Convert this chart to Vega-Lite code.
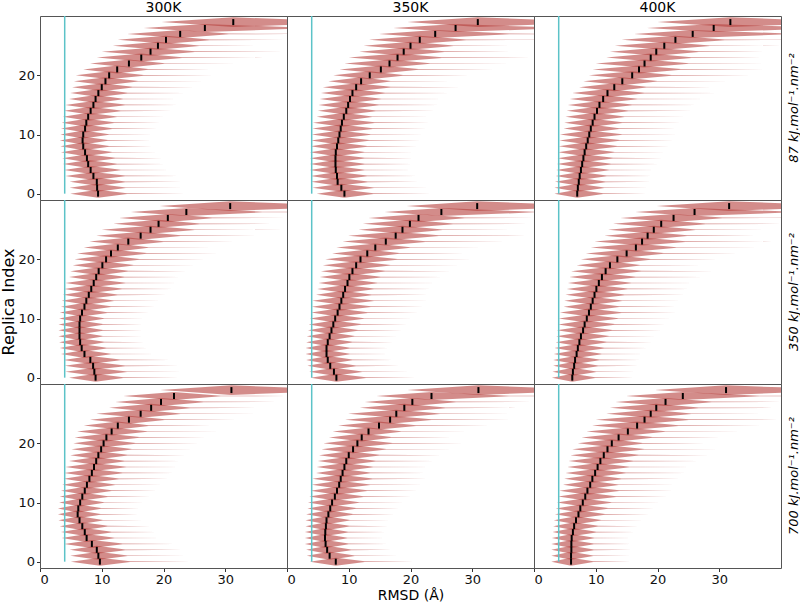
{
  "$schema": "https://vega.github.io/schema/vega-lite/v6.json",
  "background": "white",
  "bounds": "flush",
  "padding": {"left": 0, "top": 1, "right": 0, "bottom": 0},
  "title": {"text": "Replica Index", "orient": "left", "anchor": "middle", "fontSize": 16, "fontWeight": "normal", "font": "DejaVu Sans", "color": "#000000", "offset": 1},
  "data": {"values": [
    {"T":"300K","P":"87","r":0,"m":9.4,"lo":4.9,"hi":14.1,"tl":23.5},
    {"T":"300K","P":"87","r":1,"m":9.25,"lo":4.8,"hi":13.9,"tl":23.1},
    {"T":"300K","P":"87","r":2,"m":9.2,"lo":4.8,"hi":13.8,"tl":23.0},
    {"T":"300K","P":"87","r":3,"m":8.65,"lo":4.1,"hi":13.8,"tl":22.5},
    {"T":"300K","P":"87","r":4,"m":8.2,"lo":3.9,"hi":13.1,"tl":21.3},
    {"T":"300K","P":"87","r":5,"m":7.8,"lo":3.7,"hi":12.5,"tl":20.3},
    {"T":"300K","P":"87","r":6,"m":7.6,"lo":3.6,"hi":12.2,"tl":19.8},
    {"T":"300K","P":"87","r":7,"m":7.3,"lo":3.4,"hi":11.7,"tl":19.0},
    {"T":"300K","P":"87","r":8,"m":7.0,"lo":3.3,"hi":11.2,"tl":18.2},
    {"T":"300K","P":"87","r":9,"m":6.9,"lo":3.2,"hi":11.0,"tl":17.9},
    {"T":"300K","P":"87","r":10,"m":7.0,"lo":3.3,"hi":11.2,"tl":18.2},
    {"T":"300K","P":"87","r":11,"m":7.3,"lo":3.4,"hi":11.7,"tl":19.0},
    {"T":"300K","P":"87","r":12,"m":7.5,"lo":3.5,"hi":12.0,"tl":19.5},
    {"T":"300K","P":"87","r":13,"m":7.8,"lo":3.7,"hi":12.5,"tl":20.3},
    {"T":"300K","P":"87","r":14,"m":8.2,"lo":3.9,"hi":13.1,"tl":21.3},
    {"T":"300K","P":"87","r":15,"m":8.65,"lo":4.1,"hi":13.8,"tl":22.5},
    {"T":"300K","P":"87","r":16,"m":9.0,"lo":4.7,"hi":13.5,"tl":22.5},
    {"T":"300K","P":"87","r":17,"m":9.45,"lo":4.9,"hi":14.2,"tl":23.6},
    {"T":"300K","P":"87","r":18,"m":10.0,"lo":5.2,"hi":15.0,"tl":25.0},
    {"T":"300K","P":"87","r":19,"m":10.6,"lo":5.5,"hi":15.9,"tl":26.5},
    {"T":"300K","P":"87","r":20,"m":11.2,"lo":5.8,"hi":16.8,"tl":28.0},
    {"T":"300K","P":"87","r":21,"m":12.5,"lo":7.0,"hi":17.5,"tl":27.5},
    {"T":"300K","P":"87","r":22,"m":14.4,"lo":8.1,"hi":20.2,"tl":31.7},
    {"T":"300K","P":"87","r":23,"m":16.4,"lo":9.2,"hi":23.0,"tl":36.1},
    {"T":"300K","P":"87","r":24,"m":17.9,"lo":10.0,"hi":25.1,"tl":39.4},
    {"T":"300K","P":"87","r":25,"m":19.1,"lo":11.8,"hi":25.8,"tl":37.3},
    {"T":"300K","P":"87","r":26,"m":20.4,"lo":12.6,"hi":27.5,"tl":39.7},
    {"T":"300K","P":"87","r":27,"m":22.7,"lo":14.1,"hi":30.6,"tl":44.2},
    {"T":"300K","P":"87","r":28,"m":26.7,"lo":16.8,"hi":42.7,"tl":53.4},
    {"T":"300K","P":"87","r":29,"m":31.3,"lo":19.7,"hi":50.1,"tl":62.6,"w":1.2},

    {"T":"350K","P":"87","r":0,"m":9.3,"lo":4.8,"hi":14.0,"tl":23.3},
    {"T":"350K","P":"87","r":1,"m":8.8,"lo":4.1,"hi":14.1,"tl":22.9},
    {"T":"350K","P":"87","r":2,"m":8.2,"lo":3.9,"hi":13.1,"tl":21.3},
    {"T":"350K","P":"87","r":3,"m":8.1,"lo":3.8,"hi":13.0,"tl":21.1},
    {"T":"350K","P":"87","r":4,"m":7.9,"lo":3.7,"hi":12.6,"tl":20.5},
    {"T":"350K","P":"87","r":5,"m":7.85,"lo":3.7,"hi":12.6,"tl":20.4},
    {"T":"350K","P":"87","r":6,"m":7.85,"lo":3.7,"hi":12.6,"tl":20.4},
    {"T":"350K","P":"87","r":7,"m":7.9,"lo":3.7,"hi":12.6,"tl":20.5},
    {"T":"350K","P":"87","r":8,"m":8.1,"lo":3.8,"hi":13.0,"tl":21.1},
    {"T":"350K","P":"87","r":9,"m":8.3,"lo":3.9,"hi":13.3,"tl":21.6},
    {"T":"350K","P":"87","r":10,"m":8.5,"lo":4.0,"hi":13.6,"tl":22.1},
    {"T":"350K","P":"87","r":11,"m":8.7,"lo":4.1,"hi":13.9,"tl":22.6},
    {"T":"350K","P":"87","r":12,"m":8.9,"lo":4.2,"hi":14.2,"tl":23.1},
    {"T":"350K","P":"87","r":13,"m":9.2,"lo":4.8,"hi":13.8,"tl":23.0},
    {"T":"350K","P":"87","r":14,"m":9.6,"lo":5.0,"hi":14.4,"tl":24.0},
    {"T":"350K","P":"87","r":15,"m":9.9,"lo":5.1,"hi":14.9,"tl":24.8},
    {"T":"350K","P":"87","r":16,"m":10.2,"lo":5.3,"hi":15.3,"tl":25.5},
    {"T":"350K","P":"87","r":17,"m":10.6,"lo":5.5,"hi":15.9,"tl":26.5},
    {"T":"350K","P":"87","r":18,"m":11.2,"lo":5.8,"hi":16.8,"tl":28.0},
    {"T":"350K","P":"87","r":19,"m":12.0,"lo":6.7,"hi":16.8,"tl":26.4},
    {"T":"350K","P":"87","r":20,"m":13.4,"lo":7.5,"hi":18.8,"tl":29.5},
    {"T":"350K","P":"87","r":21,"m":15.2,"lo":8.5,"hi":21.3,"tl":33.5},
    {"T":"350K","P":"87","r":22,"m":16.6,"lo":9.3,"hi":23.2,"tl":36.5},
    {"T":"350K","P":"87","r":23,"m":17.9,"lo":10.0,"hi":25.1,"tl":39.4},
    {"T":"350K","P":"87","r":24,"m":18.9,"lo":11.7,"hi":25.5,"tl":36.8},
    {"T":"350K","P":"87","r":25,"m":20.0,"lo":12.4,"hi":27.0,"tl":39.0},
    {"T":"350K","P":"87","r":26,"m":21.5,"lo":13.3,"hi":29.0,"tl":41.9},
    {"T":"350K","P":"87","r":27,"m":24.0,"lo":14.9,"hi":36.0,"tl":46.8},
    {"T":"350K","P":"87","r":28,"m":27.3,"lo":17.2,"hi":43.7,"tl":54.6},
    {"T":"350K","P":"87","r":29,"m":30.9,"lo":19.5,"hi":49.4,"tl":61.8,"w":1.2},

    {"T":"400K","P":"87","r":0,"m":7.0,"lo":3.3,"hi":11.2,"tl":18.2},
    {"T":"400K","P":"87","r":1,"m":7.1,"lo":3.3,"hi":11.4,"tl":18.5},
    {"T":"400K","P":"87","r":2,"m":7.25,"lo":3.4,"hi":11.6,"tl":18.9},
    {"T":"400K","P":"87","r":3,"m":7.4,"lo":3.5,"hi":11.8,"tl":19.2},
    {"T":"400K","P":"87","r":4,"m":7.6,"lo":3.6,"hi":12.2,"tl":19.8},
    {"T":"400K","P":"87","r":5,"m":7.8,"lo":3.7,"hi":12.5,"tl":20.3},
    {"T":"400K","P":"87","r":6,"m":8.0,"lo":3.8,"hi":12.8,"tl":20.8},
    {"T":"400K","P":"87","r":7,"m":8.2,"lo":3.9,"hi":13.1,"tl":21.3},
    {"T":"400K","P":"87","r":8,"m":8.45,"lo":4.0,"hi":13.5,"tl":22.0},
    {"T":"400K","P":"87","r":9,"m":8.7,"lo":4.1,"hi":13.9,"tl":22.6},
    {"T":"400K","P":"87","r":10,"m":8.95,"lo":4.2,"hi":14.3,"tl":23.3},
    {"T":"400K","P":"87","r":11,"m":9.2,"lo":4.8,"hi":13.8,"tl":23.0},
    {"T":"400K","P":"87","r":12,"m":9.5,"lo":4.9,"hi":14.3,"tl":23.8},
    {"T":"400K","P":"87","r":13,"m":9.8,"lo":5.1,"hi":14.7,"tl":24.5},
    {"T":"400K","P":"87","r":14,"m":10.2,"lo":5.3,"hi":15.3,"tl":25.5},
    {"T":"400K","P":"87","r":15,"m":10.6,"lo":5.5,"hi":15.9,"tl":26.5},
    {"T":"400K","P":"87","r":16,"m":11.2,"lo":5.8,"hi":16.8,"tl":28.0},
    {"T":"400K","P":"87","r":17,"m":11.9,"lo":6.2,"hi":17.9,"tl":29.8},
    {"T":"400K","P":"87","r":18,"m":13.0,"lo":7.3,"hi":18.2,"tl":28.6},
    {"T":"400K","P":"87","r":19,"m":14.3,"lo":8.0,"hi":20.0,"tl":31.4},
    {"T":"400K","P":"87","r":20,"m":15.9,"lo":8.9,"hi":22.3,"tl":35.0},
    {"T":"400K","P":"87","r":21,"m":17.0,"lo":9.5,"hi":23.8,"tl":37.4},
    {"T":"400K","P":"87","r":22,"m":17.9,"lo":10.0,"hi":25.1,"tl":39.4},
    {"T":"400K","P":"87","r":23,"m":18.9,"lo":11.7,"hi":25.5,"tl":36.8},
    {"T":"400K","P":"87","r":24,"m":19.8,"lo":12.3,"hi":26.7,"tl":38.6},
    {"T":"400K","P":"87","r":25,"m":21.1,"lo":13.1,"hi":28.5,"tl":41.2},
    {"T":"400K","P":"87","r":26,"m":22.9,"lo":14.2,"hi":30.9,"tl":44.6},
    {"T":"400K","P":"87","r":27,"m":25.7,"lo":16.2,"hi":41.1,"tl":51.4},
    {"T":"400K","P":"87","r":28,"m":29.1,"lo":18.3,"hi":46.6,"tl":58.2},
    {"T":"400K","P":"87","r":29,"m":31.8,"lo":20.0,"hi":50.9,"tl":63.6,"w":1.2},

    {"T":"300K","P":"350","r":0,"m":9.0,"lo":4.7,"hi":13.5,"tl":22.5},
    {"T":"300K","P":"350","r":1,"m":8.8,"lo":4.1,"hi":14.1,"tl":22.9},
    {"T":"300K","P":"350","r":2,"m":8.6,"lo":4.0,"hi":13.8,"tl":22.4},
    {"T":"300K","P":"350","r":3,"m":8.15,"lo":3.8,"hi":13.0,"tl":21.2},
    {"T":"300K","P":"350","r":4,"m":7.2,"lo":3.4,"hi":11.5,"tl":18.7},
    {"T":"300K","P":"350","r":5,"m":6.75,"lo":3.2,"hi":10.8,"tl":17.6},
    {"T":"300K","P":"350","r":6,"m":6.5,"lo":3.1,"hi":10.4,"tl":16.9},
    {"T":"300K","P":"350","r":7,"m":6.4,"lo":3.0,"hi":10.2,"tl":16.6},
    {"T":"300K","P":"350","r":8,"m":6.4,"lo":3.0,"hi":10.2,"tl":16.6},
    {"T":"300K","P":"350","r":9,"m":6.4,"lo":3.0,"hi":10.2,"tl":16.6},
    {"T":"300K","P":"350","r":10,"m":6.5,"lo":3.1,"hi":10.4,"tl":16.9},
    {"T":"300K","P":"350","r":11,"m":6.8,"lo":3.2,"hi":10.9,"tl":17.7},
    {"T":"300K","P":"350","r":12,"m":7.2,"lo":3.4,"hi":11.5,"tl":18.7},
    {"T":"300K","P":"350","r":13,"m":7.5,"lo":3.5,"hi":12.0,"tl":19.5},
    {"T":"300K","P":"350","r":14,"m":7.9,"lo":3.7,"hi":12.6,"tl":20.5},
    {"T":"300K","P":"350","r":15,"m":8.3,"lo":3.9,"hi":13.3,"tl":21.6},
    {"T":"300K","P":"350","r":16,"m":8.7,"lo":4.1,"hi":13.9,"tl":22.6},
    {"T":"300K","P":"350","r":17,"m":9.1,"lo":4.7,"hi":13.7,"tl":22.8},
    {"T":"300K","P":"350","r":18,"m":9.5,"lo":4.9,"hi":14.3,"tl":23.8},
    {"T":"300K","P":"350","r":19,"m":10.1,"lo":5.3,"hi":15.2,"tl":25.3},
    {"T":"300K","P":"350","r":20,"m":10.7,"lo":5.6,"hi":16.1,"tl":26.8},
    {"T":"300K","P":"350","r":21,"m":11.5,"lo":6.0,"hi":17.3,"tl":28.8},
    {"T":"300K","P":"350","r":22,"m":12.6,"lo":7.1,"hi":17.6,"tl":27.7},
    {"T":"300K","P":"350","r":23,"m":14.3,"lo":8.0,"hi":20.0,"tl":31.4},
    {"T":"300K","P":"350","r":24,"m":16.3,"lo":9.1,"hi":22.8,"tl":35.8},
    {"T":"300K","P":"350","r":25,"m":17.9,"lo":10.0,"hi":25.1,"tl":39.4},
    {"T":"300K","P":"350","r":26,"m":19.2,"lo":11.9,"hi":25.9,"tl":37.4},
    {"T":"300K","P":"350","r":27,"m":20.7,"lo":12.8,"hi":27.9,"tl":40.3},
    {"T":"300K","P":"350","r":28,"m":23.7,"lo":14.7,"hi":36.0,"tl":46.2},
    {"T":"300K","P":"350","r":29,"m":30.8,"lo":19.4,"hi":49.3,"tl":61.6,"w":1.2},

    {"T":"350K","P":"350","r":0,"m":8.0,"lo":3.8,"hi":12.8,"tl":20.8},
    {"T":"350K","P":"350","r":1,"m":7.6,"lo":3.6,"hi":12.2,"tl":19.8},
    {"T":"350K","P":"350","r":2,"m":7.0,"lo":3.3,"hi":11.2,"tl":18.2},
    {"T":"350K","P":"350","r":3,"m":6.6,"lo":3.1,"hi":10.6,"tl":17.2},
    {"T":"350K","P":"350","r":4,"m":6.4,"lo":3.0,"hi":10.2,"tl":16.6},
    {"T":"350K","P":"350","r":5,"m":6.4,"lo":3.0,"hi":10.2,"tl":16.6},
    {"T":"350K","P":"350","r":6,"m":6.6,"lo":3.1,"hi":10.6,"tl":17.2},
    {"T":"350K","P":"350","r":7,"m":6.9,"lo":3.2,"hi":11.0,"tl":17.9},
    {"T":"350K","P":"350","r":8,"m":7.2,"lo":3.4,"hi":11.5,"tl":18.7},
    {"T":"350K","P":"350","r":9,"m":7.5,"lo":3.5,"hi":12.0,"tl":19.5},
    {"T":"350K","P":"350","r":10,"m":7.8,"lo":3.7,"hi":12.5,"tl":20.3},
    {"T":"350K","P":"350","r":11,"m":8.2,"lo":3.9,"hi":13.1,"tl":21.3},
    {"T":"350K","P":"350","r":12,"m":8.5,"lo":4.0,"hi":13.6,"tl":22.1},
    {"T":"350K","P":"350","r":13,"m":8.8,"lo":4.1,"hi":14.1,"tl":22.9},
    {"T":"350K","P":"350","r":14,"m":9.1,"lo":4.7,"hi":13.7,"tl":22.8},
    {"T":"350K","P":"350","r":15,"m":9.4,"lo":4.9,"hi":14.1,"tl":23.5},
    {"T":"350K","P":"350","r":16,"m":9.8,"lo":5.1,"hi":14.7,"tl":24.5},
    {"T":"350K","P":"350","r":17,"m":10.1,"lo":5.3,"hi":15.2,"tl":25.3},
    {"T":"350K","P":"350","r":18,"m":10.6,"lo":5.5,"hi":15.9,"tl":26.5},
    {"T":"350K","P":"350","r":19,"m":11.2,"lo":5.8,"hi":16.8,"tl":28.0},
    {"T":"350K","P":"350","r":20,"m":11.9,"lo":6.2,"hi":17.9,"tl":29.8},
    {"T":"350K","P":"350","r":21,"m":13.0,"lo":7.3,"hi":18.2,"tl":28.6},
    {"T":"350K","P":"350","r":22,"m":14.3,"lo":8.0,"hi":20.0,"tl":31.4},
    {"T":"350K","P":"350","r":23,"m":16.0,"lo":9.0,"hi":22.4,"tl":35.2},
    {"T":"350K","P":"350","r":24,"m":17.6,"lo":9.9,"hi":24.6,"tl":38.7},
    {"T":"350K","P":"350","r":25,"m":18.7,"lo":11.6,"hi":25.2,"tl":36.4},
    {"T":"350K","P":"350","r":26,"m":19.9,"lo":12.3,"hi":26.9,"tl":38.8},
    {"T":"350K","P":"350","r":27,"m":21.3,"lo":13.2,"hi":28.8,"tl":41.6},
    {"T":"350K","P":"350","r":28,"m":25.0,"lo":15.8,"hi":40.0,"tl":50.0},
    {"T":"350K","P":"350","r":29,"m":30.8,"lo":19.4,"hi":49.3,"tl":61.6,"w":1.2},

    {"T":"400K","P":"350","r":0,"m":6.2,"lo":2.9,"hi":9.9,"tl":16.1},
    {"T":"400K","P":"350","r":1,"m":6.3,"lo":3.0,"hi":10.1,"tl":16.4},
    {"T":"400K","P":"350","r":2,"m":6.5,"lo":3.1,"hi":10.4,"tl":16.9},
    {"T":"400K","P":"350","r":3,"m":6.65,"lo":3.1,"hi":10.6,"tl":17.3},
    {"T":"400K","P":"350","r":4,"m":6.9,"lo":3.2,"hi":11.0,"tl":17.9},
    {"T":"400K","P":"350","r":5,"m":7.1,"lo":3.3,"hi":11.4,"tl":18.5},
    {"T":"400K","P":"350","r":6,"m":7.35,"lo":3.5,"hi":11.8,"tl":19.1},
    {"T":"400K","P":"350","r":7,"m":7.6,"lo":3.6,"hi":12.2,"tl":19.8},
    {"T":"400K","P":"350","r":8,"m":7.95,"lo":3.7,"hi":12.7,"tl":20.7},
    {"T":"400K","P":"350","r":9,"m":8.2,"lo":3.9,"hi":13.1,"tl":21.3},
    {"T":"400K","P":"350","r":10,"m":8.55,"lo":4.0,"hi":13.7,"tl":22.2},
    {"T":"400K","P":"350","r":11,"m":8.9,"lo":4.2,"hi":14.2,"tl":23.1},
    {"T":"400K","P":"350","r":12,"m":9.2,"lo":4.8,"hi":13.8,"tl":23.0},
    {"T":"400K","P":"350","r":13,"m":9.5,"lo":4.9,"hi":14.3,"tl":23.8},
    {"T":"400K","P":"350","r":14,"m":9.8,"lo":5.1,"hi":14.7,"tl":24.5},
    {"T":"400K","P":"350","r":15,"m":10.1,"lo":5.3,"hi":15.2,"tl":25.3},
    {"T":"400K","P":"350","r":16,"m":10.5,"lo":5.5,"hi":15.8,"tl":26.3},
    {"T":"400K","P":"350","r":17,"m":11.0,"lo":5.7,"hi":16.5,"tl":27.5},
    {"T":"400K","P":"350","r":18,"m":11.6,"lo":6.0,"hi":17.4,"tl":29.0},
    {"T":"400K","P":"350","r":19,"m":12.3,"lo":6.9,"hi":17.2,"tl":27.0},
    {"T":"400K","P":"350","r":20,"m":13.5,"lo":7.6,"hi":18.9,"tl":29.7},
    {"T":"400K","P":"350","r":21,"m":15.0,"lo":8.4,"hi":21.0,"tl":33.0},
    {"T":"400K","P":"350","r":22,"m":16.5,"lo":9.2,"hi":23.1,"tl":36.3},
    {"T":"400K","P":"350","r":23,"m":17.5,"lo":9.8,"hi":24.5,"tl":38.5},
    {"T":"400K","P":"350","r":24,"m":18.4,"lo":11.4,"hi":24.8,"tl":35.8},
    {"T":"400K","P":"350","r":25,"m":19.4,"lo":12.0,"hi":26.2,"tl":37.8},
    {"T":"400K","P":"350","r":26,"m":20.6,"lo":12.8,"hi":27.8,"tl":40.2},
    {"T":"400K","P":"350","r":27,"m":22.6,"lo":14.0,"hi":30.5,"tl":44.1},
    {"T":"400K","P":"350","r":28,"m":26.0,"lo":16.4,"hi":41.6,"tl":52.0},
    {"T":"400K","P":"350","r":29,"m":31.6,"lo":19.9,"hi":50.6,"tl":63.2,"w":1.2},

    {"T":"300K","P":"700","r":0,"m":9.7,"lo":5.0,"hi":14.6,"tl":24.3},
    {"T":"300K","P":"700","r":1,"m":9.45,"lo":4.9,"hi":14.2,"tl":23.6},
    {"T":"300K","P":"700","r":2,"m":9.2,"lo":4.8,"hi":13.8,"tl":23.0},
    {"T":"300K","P":"700","r":3,"m":8.4,"lo":3.9,"hi":13.4,"tl":21.8},
    {"T":"300K","P":"700","r":4,"m":7.55,"lo":3.5,"hi":12.1,"tl":19.6},
    {"T":"300K","P":"700","r":5,"m":7.25,"lo":3.4,"hi":11.6,"tl":18.9},
    {"T":"300K","P":"700","r":6,"m":6.85,"lo":3.2,"hi":11.0,"tl":17.8},
    {"T":"300K","P":"700","r":7,"m":6.4,"lo":3.0,"hi":10.2,"tl":16.6},
    {"T":"300K","P":"700","r":8,"m":6.1,"lo":2.9,"hi":9.8,"tl":15.9},
    {"T":"300K","P":"700","r":9,"m":6.2,"lo":2.9,"hi":9.9,"tl":16.1},
    {"T":"300K","P":"700","r":10,"m":6.5,"lo":3.1,"hi":10.4,"tl":16.9},
    {"T":"300K","P":"700","r":11,"m":6.85,"lo":3.2,"hi":11.0,"tl":17.8},
    {"T":"300K","P":"700","r":12,"m":7.25,"lo":3.4,"hi":11.6,"tl":18.9},
    {"T":"300K","P":"700","r":13,"m":7.6,"lo":3.6,"hi":12.2,"tl":19.8},
    {"T":"300K","P":"700","r":14,"m":8.0,"lo":3.8,"hi":12.8,"tl":20.8},
    {"T":"300K","P":"700","r":15,"m":8.4,"lo":3.9,"hi":13.4,"tl":21.8},
    {"T":"300K","P":"700","r":16,"m":8.75,"lo":4.1,"hi":14.0,"tl":22.8},
    {"T":"300K","P":"700","r":17,"m":9.1,"lo":4.7,"hi":13.7,"tl":22.8},
    {"T":"300K","P":"700","r":18,"m":9.45,"lo":4.9,"hi":14.2,"tl":23.6},
    {"T":"300K","P":"700","r":19,"m":9.9,"lo":5.1,"hi":14.9,"tl":24.8},
    {"T":"300K","P":"700","r":20,"m":10.3,"lo":5.4,"hi":15.5,"tl":25.8},
    {"T":"300K","P":"700","r":21,"m":10.75,"lo":5.6,"hi":16.1,"tl":26.9},
    {"T":"300K","P":"700","r":22,"m":11.6,"lo":6.0,"hi":17.4,"tl":29.0},
    {"T":"300K","P":"700","r":23,"m":12.6,"lo":7.1,"hi":17.6,"tl":27.7},
    {"T":"300K","P":"700","r":24,"m":14.4,"lo":8.1,"hi":20.2,"tl":31.7},
    {"T":"300K","P":"700","r":25,"m":16.3,"lo":9.1,"hi":22.8,"tl":35.8},
    {"T":"300K","P":"700","r":26,"m":18.0,"lo":11.2,"hi":24.3,"tl":35.1},
    {"T":"300K","P":"700","r":27,"m":19.6,"lo":12.2,"hi":26.5,"tl":38.3},
    {"T":"300K","P":"700","r":28,"m":21.7,"lo":13.5,"hi":29.3,"tl":42.3},
    {"T":"300K","P":"700","r":29,"m":31.0,"lo":19.5,"hi":49.6,"tl":62.0,"w":1.2},

    {"T":"350K","P":"700","r":0,"m":7.9,"lo":3.7,"hi":12.6,"tl":20.5},
    {"T":"350K","P":"700","r":1,"m":6.9,"lo":3.2,"hi":11.0,"tl":17.9},
    {"T":"350K","P":"700","r":2,"m":6.5,"lo":3.1,"hi":10.4,"tl":16.9},
    {"T":"350K","P":"700","r":3,"m":6.25,"lo":2.9,"hi":10.0,"tl":16.3},
    {"T":"350K","P":"700","r":4,"m":6.15,"lo":2.9,"hi":9.8,"tl":16.0},
    {"T":"350K","P":"700","r":5,"m":6.2,"lo":2.9,"hi":9.9,"tl":16.1},
    {"T":"350K","P":"700","r":6,"m":6.3,"lo":3.0,"hi":10.1,"tl":16.4},
    {"T":"350K","P":"700","r":7,"m":6.4,"lo":3.0,"hi":10.2,"tl":16.6},
    {"T":"350K","P":"700","r":8,"m":6.7,"lo":3.1,"hi":10.7,"tl":17.4},
    {"T":"350K","P":"700","r":9,"m":7.0,"lo":3.3,"hi":11.2,"tl":18.2},
    {"T":"350K","P":"700","r":10,"m":7.3,"lo":3.4,"hi":11.7,"tl":19.0},
    {"T":"350K","P":"700","r":11,"m":7.75,"lo":3.6,"hi":12.4,"tl":20.2},
    {"T":"350K","P":"700","r":12,"m":8.1,"lo":3.8,"hi":13.0,"tl":21.1},
    {"T":"350K","P":"700","r":13,"m":8.45,"lo":4.0,"hi":13.5,"tl":22.0},
    {"T":"350K","P":"700","r":14,"m":8.7,"lo":4.1,"hi":13.9,"tl":22.6},
    {"T":"350K","P":"700","r":15,"m":9.0,"lo":4.7,"hi":13.5,"tl":22.5},
    {"T":"350K","P":"700","r":16,"m":9.3,"lo":4.8,"hi":14.0,"tl":23.3},
    {"T":"350K","P":"700","r":17,"m":9.6,"lo":5.0,"hi":14.4,"tl":24.0},
    {"T":"350K","P":"700","r":18,"m":10.0,"lo":5.2,"hi":15.0,"tl":25.0},
    {"T":"350K","P":"700","r":19,"m":10.7,"lo":5.6,"hi":16.1,"tl":26.8},
    {"T":"350K","P":"700","r":20,"m":11.4,"lo":5.9,"hi":17.1,"tl":28.5},
    {"T":"350K","P":"700","r":21,"m":12.1,"lo":6.8,"hi":16.9,"tl":26.6},
    {"T":"350K","P":"700","r":22,"m":13.2,"lo":7.4,"hi":18.5,"tl":29.1},
    {"T":"350K","P":"700","r":23,"m":14.9,"lo":8.3,"hi":20.9,"tl":32.8},
    {"T":"350K","P":"700","r":24,"m":16.7,"lo":9.4,"hi":23.4,"tl":36.8},
    {"T":"350K","P":"700","r":25,"m":17.7,"lo":9.9,"hi":24.8,"tl":39.0},
    {"T":"350K","P":"700","r":26,"m":19.0,"lo":11.8,"hi":25.7,"tl":37.1},
    {"T":"350K","P":"700","r":27,"m":20.3,"lo":12.6,"hi":27.4,"tl":39.6},
    {"T":"350K","P":"700","r":28,"m":23.4,"lo":14.5,"hi":36.0,"tl":46.0},
    {"T":"350K","P":"700","r":29,"m":31.0,"lo":19.5,"hi":49.6,"tl":62.0,"w":1.2},

    {"T":"400K","P":"700","r":0,"m":6.0,"lo":2.8,"hi":9.6,"tl":15.6},
    {"T":"400K","P":"700","r":1,"m":6.0,"lo":2.8,"hi":9.6,"tl":15.6},
    {"T":"400K","P":"700","r":2,"m":6.05,"lo":2.8,"hi":9.7,"tl":15.8},
    {"T":"400K","P":"700","r":3,"m":6.05,"lo":2.8,"hi":9.7,"tl":15.8},
    {"T":"400K","P":"700","r":4,"m":6.1,"lo":2.9,"hi":9.8,"tl":15.9},
    {"T":"400K","P":"700","r":5,"m":6.3,"lo":3.0,"hi":10.1,"tl":16.4},
    {"T":"400K","P":"700","r":6,"m":6.5,"lo":3.1,"hi":10.4,"tl":16.9},
    {"T":"400K","P":"700","r":7,"m":6.8,"lo":3.2,"hi":10.9,"tl":17.7},
    {"T":"400K","P":"700","r":8,"m":7.2,"lo":3.4,"hi":11.5,"tl":18.7},
    {"T":"400K","P":"700","r":9,"m":7.5,"lo":3.5,"hi":12.0,"tl":19.5},
    {"T":"400K","P":"700","r":10,"m":7.9,"lo":3.7,"hi":12.6,"tl":20.5},
    {"T":"400K","P":"700","r":11,"m":8.3,"lo":3.9,"hi":13.3,"tl":21.6},
    {"T":"400K","P":"700","r":12,"m":8.65,"lo":4.1,"hi":13.8,"tl":22.5},
    {"T":"400K","P":"700","r":13,"m":9.1,"lo":4.7,"hi":13.7,"tl":22.8},
    {"T":"400K","P":"700","r":14,"m":9.45,"lo":4.9,"hi":14.2,"tl":23.6},
    {"T":"400K","P":"700","r":15,"m":9.9,"lo":5.1,"hi":14.9,"tl":24.8},
    {"T":"400K","P":"700","r":16,"m":10.3,"lo":5.4,"hi":15.5,"tl":25.8},
    {"T":"400K","P":"700","r":17,"m":10.75,"lo":5.6,"hi":16.1,"tl":26.9},
    {"T":"400K","P":"700","r":18,"m":11.3,"lo":5.9,"hi":17.0,"tl":28.3},
    {"T":"400K","P":"700","r":19,"m":11.9,"lo":6.2,"hi":17.9,"tl":29.8},
    {"T":"400K","P":"700","r":20,"m":12.6,"lo":7.1,"hi":17.6,"tl":27.7},
    {"T":"400K","P":"700","r":21,"m":13.7,"lo":7.7,"hi":19.2,"tl":30.2},
    {"T":"400K","P":"700","r":22,"m":15.2,"lo":8.5,"hi":21.3,"tl":33.5},
    {"T":"400K","P":"700","r":23,"m":16.7,"lo":9.4,"hi":23.4,"tl":36.8},
    {"T":"400K","P":"700","r":24,"m":17.9,"lo":10.0,"hi":25.1,"tl":39.4},
    {"T":"400K","P":"700","r":25,"m":18.9,"lo":11.7,"hi":25.5,"tl":36.8},
    {"T":"400K","P":"700","r":26,"m":19.8,"lo":12.3,"hi":26.7,"tl":38.6},
    {"T":"400K","P":"700","r":27,"m":21.3,"lo":13.2,"hi":28.8,"tl":41.6},
    {"T":"400K","P":"700","r":28,"m":24.1,"lo":14.9,"hi":36.5,"tl":47.0},
    {"T":"400K","P":"700","r":29,"m":31.1,"lo":19.6,"hi":49.8,"tl":62.2,"w":1.2}
  ]},
  "facet": {
    "row": {"field": "P", "type": "ordinal", "sort": ["87", "350", "700"],
      "header": {"title": null,
        "labelOrient": "right", "labelAngle": -90, "labelExpr": "datum.value + ' kJ.mol⁻¹.nm⁻²'", "labelFontStyle": "italic", "labelFontSize": 13, "labelPadding": 0, "labelAlign": "center", "labelBaseline": "middle"}},
    "column": {"field": "T", "type": "ordinal", "sort": ["300K", "350K", "400K"],
      "header": {"title": "RMSD (Å)", "titleOrient": "bottom", "titleFontSize": 14, "titleFontWeight": "normal", "titlePadding": -8, "labelFontSize": 14, "labelPadding": 1}}
  },
  "spacing": 0,
  "spec": {
    "width": 247,
    "height": 184,
    "layer": [
      {
        "transform": [
          {"fold": ["lo", "m", "hi", "tl"], "as": ["k", "x"]},
          {"calculate": "datum.k == 'm' ? 0.68 : (datum.k == 'hi' ? 0.06 : 0)", "as": "d"},
          {"calculate": "datum.r - datum.d * (datum.w || 1)", "as": "y1"},
          {"calculate": "datum.r + datum.d * (datum.w || 1)", "as": "y2"}
        ],
        "mark": {"type": "area", "clip": true, "color": "#b5403c", "opacity": 0.6, "interpolate": "linear"},
        "encoding": {
          "x": {"field": "x", "type": "quantitative", "title": null, "scale": {"domain": [0, 40], "nice": false, "zero": false}, "axis": {"values": [0, 10, 20, 30]}},
          "y": {"field": "y1", "type": "quantitative", "title": null, "scale": {"domain": [-1.07, 30.03], "nice": false, "zero": false}, "axis": {"values": [0, 5, 10, 15, 20, 25]}},
          "y2": {"field": "y2"},
          "detail": {"field": "r", "type": "nominal"}
        }
      },
      {
        "transform": [{"filter": "datum.r == 0"}],
        "mark": {"type": "rule", "color": "#5cc3c8", "strokeWidth": 1.5},
        "encoding": {
          "x": {"datum": 4},
          "y": {"datum": 0},
          "y2": {"datum": 30.03}
        }
      },
      {
        "mark": {"type": "tick", "orient": "vertical", "color": "#000000", "size": 6, "thickness": 2, "opacity": 1},
        "encoding": {
          "x": {"field": "m", "type": "quantitative", "title": null},
          "y": {"field": "r", "type": "quantitative", "title": null}
        }
      }
    ]
  },
  "config": {
    "font": "DejaVu Sans",
    "view": {"stroke": "#555555", "strokeWidth": 1},
    "axis": {"labelFont": "DejaVu Sans", "labelFontSize": 13, "labelColor": "#111111", "tickColor": "#333333", "tickSize": 3.5, "domain": false, "grid": false, "labelPadding": 2},
    "header": {"labelFont": "DejaVu Sans", "labelColor": "#000000", "titleFont": "DejaVu Sans", "titleColor": "#000000"}
  }
}
